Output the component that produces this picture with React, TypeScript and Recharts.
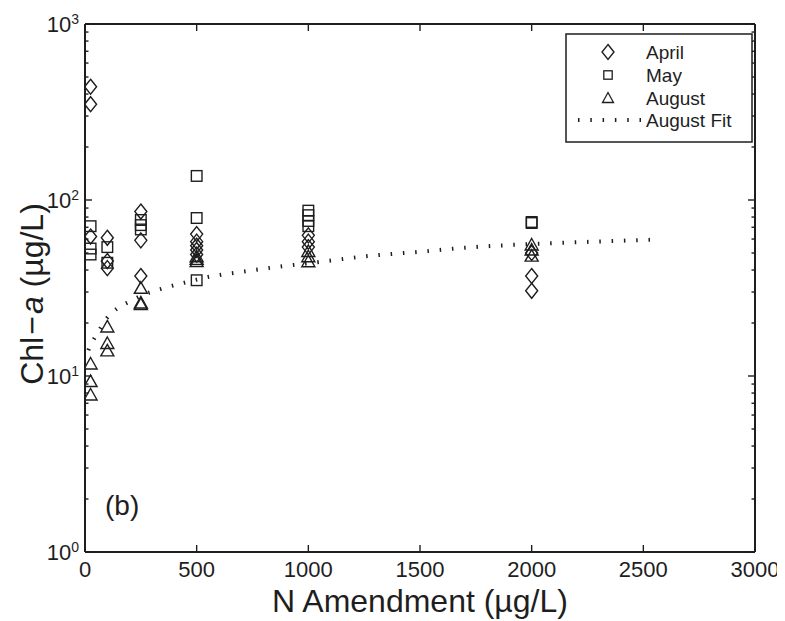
import React from "react";
import { ComposedChart, Scatter, Line, XAxis, YAxis } from "recharts";

const N_LEVELS = [25, 100, 250, 500, 1000, 2000];
const APRIL = [[440, 350, 62], [61, 45, 41], [86, 59, 37], [64, 58, 55, 52, 49], [63, 58, 54], [50, 37, 30.5]];
const MAY = [[71, 53, 49], [54, 44], [77, 72, 68], [137, 79, 35], [87, 82, 76, 71], [75, 74]];
const AUGUST = [[11.7, 9.3, 7.8], [19, 15.3, 13.9], [31.5, 26, 25.5], [47.6, 46, 44.7], [51, 47.6, 44.6], [55.5, 52, 48]];
const FIT_N = [15, 25, 50, 100, 150, 200, 250, 350, 450, 550, 700, 850, 1000, 1300, 1500, 1700, 1900, 2200, 2550];
const FIT_V = [14, 15, 17, 21.5, 24.5, 26.5, 28.5, 31.5, 34, 36.5, 39, 41.5, 43.7, 48.5, 50.8, 53.5, 55.5, 57.5, 59.5];
const X_TICKS = [0, 500, 1000, 1500, 2000, 2500, 3000];
const Y_TICKS = [1, 2, 3, 4, 5, 6, 7, 8, 9, 10, 20, 30, 40, 50, 60, 70, 80, 90, 100, 200, 300, 400, 500, 600, 700, 800, 900, 1000];
const Y_MAJOR = [1, 10, 100, 1000];
const LEGEND_NAMES = ["April", "May", "August", "August Fit"];

const INK = "#1e1e1e";
const FONT = "'Liberation Sans', Arial, Helvetica, sans-serif";

const flatten = (groups: number[][]) =>
  groups.flatMap((vals, i) => vals.map((v) => ({ n: N_LEVELS[i], v })));

const aprilData = flatten(APRIL);
const mayData = flatten(MAY);
const augustData = flatten(AUGUST);
const fitData = FIT_N.map((n, i) => ({ n, v: FIT_V[i] }));

const Diamond = (props: any) => {
  const { cx, cy } = props;
  if (cx == null || cy == null) return null;
  const w = 6, h = 7.5;
  return <path d={`M${cx},${cy - h}L${cx + w},${cy}L${cx},${cy + h}L${cx - w},${cy}Z`} fill="none" stroke={INK} strokeWidth={1.4} />;
};
const Square = (props: any) => {
  const { cx, cy } = props;
  if (cx == null || cy == null) return null;
  const s = 5.3;
  return <rect x={cx - s} y={cy - s} width={2 * s} height={2 * s} fill="none" stroke={INK} strokeWidth={1.4} />;
};
const Triangle = (props: any) => {
  const { cx, cy } = props;
  if (cx == null || cy == null) return null;
  return <path d={`M${cx},${cy - 6.5}L${cx + 6.5},${cy + 5}L${cx - 6.5},${cy + 5}Z`} fill="none" stroke={INK} strokeWidth={1.4} />;
};

const BottomTick = (props: any) => {
  const { x, y, payload } = props;
  return (
    <g>
      <line x1={x} x2={x} y1={y} y2={y - 7} stroke={INK} strokeWidth={1.4} />
      <text x={x} y={y + 25} textAnchor="middle" fontSize={22} fontFamily={FONT} fill={INK}>{payload.value}</text>
    </g>
  );
};
const TopTick = (props: any) => {
  const { x, y } = props;
  return <line x1={x} x2={x} y1={y} y2={y + 7} stroke={INK} strokeWidth={1.4} />;
};
const LeftTick = (props: any) => {
  const { x, y, payload } = props;
  const major = Y_MAJOR.includes(payload.value);
  const exp = Math.round(Math.log10(payload.value));
  return (
    <g>
      <line x1={x} x2={x + (major ? 7 : 3.5)} y1={y} y2={y} stroke={INK} strokeWidth={1.4} />
      {major && (
        <text x={x - 6} y={y + 8} textAnchor="end" fontSize={22} fontFamily={FONT} fill={INK}>
          10<tspan dy={-8} fontSize={14}>{exp}</tspan>
        </text>
      )}
    </g>
  );
};
const RightTick = (props: any) => {
  const { x, y, payload } = props;
  const major = Y_MAJOR.includes(payload.value);
  return <line x1={x} x2={x - (major ? 7 : 3.5)} y1={y} y2={y} stroke={INK} strokeWidth={1.4} />;
};

const XLabel = (props: any) => {
  const vb = props.viewBox || {};
  const cx = vb.x + vb.width / 2;
  return (
    <text x={cx} y={604} textAnchor="middle" fontSize={32} fontFamily={FONT} fill={INK}>
      N Amendment (µg/L)
    </text>
  );
};
const YLabel = (props: any) => {
  const vb = props.viewBox || {};
  const cy = vb.y + vb.height / 2 + 6;
  const cx = 24;
  return (
    <text x={cx} y={cy} transform={`rotate(-90, ${cx}, ${cy})`} textAnchor="middle" dominantBaseline="central" fontSize={32} fontFamily={FONT} fill={INK}>
      Chl<tspan dx={2}>−</tspan><tspan dx={2} fontStyle="italic">a</tspan> (µg/L)
    </text>
  );
};

const axisLine = { stroke: INK, strokeWidth: 2 };

export default function App() {
  const lx = 558, ly = 26;
  const rows = [44, 67, 90, 112];
  const mx = 600;
  return (
    <div style={{ position: "relative", width: 777, height: 613 }}>
      <ComposedChart width={777} height={613} margin={{ top: 15, right: 29, bottom: 0, left: 17 }}>
        <XAxis xAxisId="bottom" type="number" dataKey="n" domain={[0, 3000]} ticks={X_TICKS} interval={0}
          allowDataOverflow tickSize={0} tickMargin={0} height={69} axisLine={axisLine} tickLine={false}
          tick={<BottomTick />} label={<XLabel />} />
        <XAxis xAxisId="top" orientation="top" type="number" dataKey="n" domain={[0, 3000]} ticks={X_TICKS} interval={0}
          allowDataOverflow tickSize={0} tickMargin={0} height={1} axisLine={axisLine} tickLine={false} tick={<TopTick />} />
        <YAxis yAxisId="left" type="number" dataKey="v" scale="log" domain={[1, 1000]} ticks={Y_TICKS} interval={0}
          allowDataOverflow tickSize={0} tickMargin={0} width={60} axisLine={axisLine} tickLine={false}
          tick={<LeftTick />} label={<YLabel />} />
        <YAxis yAxisId="right" orientation="right" type="number" dataKey="v" scale="log" domain={[1, 1000]} ticks={Y_TICKS} interval={0}
          allowDataOverflow tickSize={0} tickMargin={0} width={1} axisLine={axisLine} tickLine={false} tick={<RightTick />} />
        <Line xAxisId="bottom" yAxisId="left" data={fitData} dataKey="v" type="monotone" stroke={INK} strokeWidth={4}
          strokeDasharray="1.5 10.8" dot={false} activeDot={false} isAnimationActive={false} />
        <Scatter xAxisId="bottom" yAxisId="left" data={augustData} dataKey="v" shape={<Triangle />} isAnimationActive={false} />
        <Scatter xAxisId="bottom" yAxisId="left" data={mayData} dataKey="v" shape={<Square />} isAnimationActive={false} />
        <Scatter xAxisId="bottom" yAxisId="left" data={aprilData} dataKey="v" shape={<Diamond />} isAnimationActive={false} />
      </ComposedChart>
      <svg width={777} height={613} style={{ position: "absolute", left: 0, top: 0, pointerEvents: "none" }}>
        <text x={97} y={507} fontSize={28} fontFamily={FONT} fill={INK}>(b)</text>
        <rect x={lx} y={ly} width={186} height={108} fill="#fff" stroke={INK} strokeWidth={1.5} />
        <Diamond cx={mx} cy={rows[0]} />
        <rect x={mx - 4.2} y={rows[1] - 4.2} width={8.4} height={8.4} fill="none" stroke={INK} strokeWidth={1.3} />
        <path d={`M${mx},${rows[2] - 5.5}L${mx + 5.5},${rows[2] + 4.5}L${mx - 5.5},${rows[2] + 4.5}Z`} fill="none" stroke={INK} strokeWidth={1.3} />
        <line x1={570} x2={634} y1={rows[3]} y2={rows[3]} stroke={INK} strokeWidth={4} strokeDasharray="1.5 10.8" />
        {LEGEND_NAMES.map((name, i) => (
          <text key={name} x={638} y={rows[i] + 7} fontSize={19} fontFamily={FONT} fill={INK}>{name}</text>
        ))}
      </svg>
    </div>
  );
}
